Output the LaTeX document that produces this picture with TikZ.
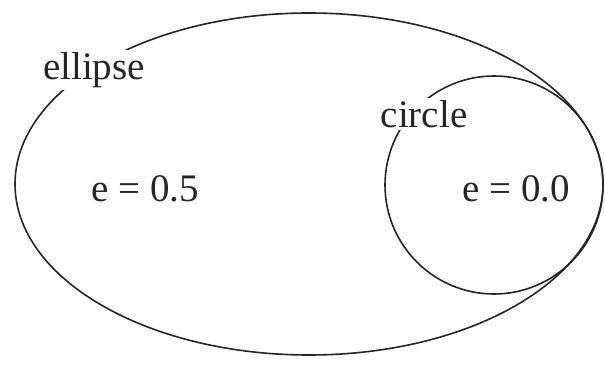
\documentclass[tikz,border=0pt]{standalone}
\usepackage{fontspec}
\setmainfont{Liberation Serif}
\begin{document}
\begin{tikzpicture}[x=1pt,y=-1pt,
  curve/.style={line width=1.6pt, black!85},
  lbl/.style={fill=white, inner sep=2pt, font=\fontsize{39}{41}\selectfont, text=black!85}]
\useasboundingbox (0,0) rectangle (605,369);
\fill[white] (0,0) rectangle (605,369);
\draw[curve] (309,184) ellipse [x radius=294pt, y radius=171pt];
\draw[curve] (494,185) circle [radius=109pt];
\node[lbl] (ell) at (94,70) {ellipse};
\node[lbl] (cir) at (424,114) {circle};
\node[lbl, fill=none] (e5) at (145,189) {e = 0.5};
\node[lbl, fill=none] (e0) at (516,189) {e = 0.0};
\end{tikzpicture}
\end{document}
